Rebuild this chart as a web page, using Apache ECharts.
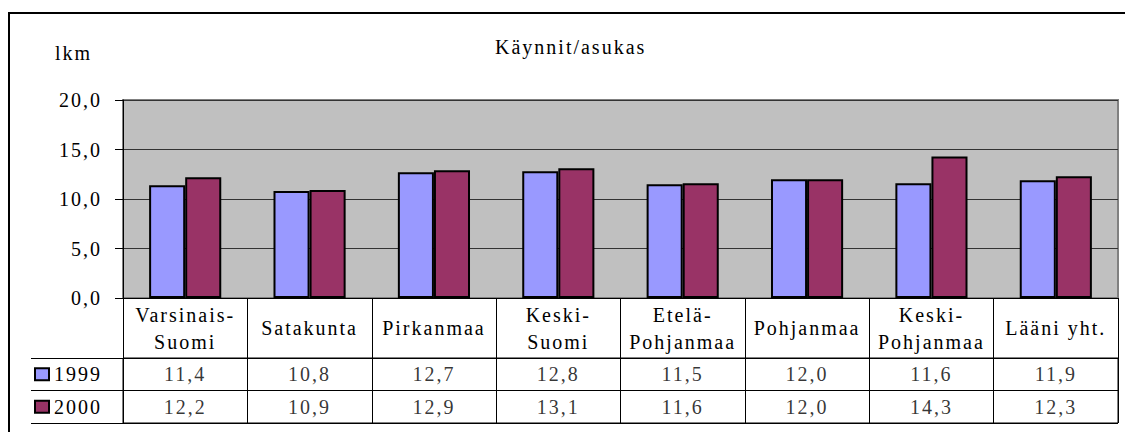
<!DOCTYPE html>
<html>
<head>
<meta charset="utf-8">
<script src="https://cdn.jsdelivr.net/npm/echarts@6/dist/echarts.min.js"></script>
<style>
    html, body { margin: 0; padding: 0; background: #fff; }
    #main { width: 1125px; height: 432px; letter-spacing: 2px; font-family: "Liberation Serif", serif; }
</style>
</head>
<body>
<div id="main"></div>
<script>
var categories = ['Varsinais-Suomi', 'Satakunta', 'Pirkanmaa', 'Keski-Suomi', 'Etelä-Pohjanmaa', 'Pohjanmaa', 'Keski-Pohjanmaa', 'Lääni yht.'];
var years = ['1999', '2000'];
var values1999 = [11.4, 10.8, 12.7, 12.8, 11.5, 12.0, 11.6, 11.9];
var values2000 = [12.2, 10.9, 12.9, 13.1, 11.6, 12.0, 14.3, 12.3];
var colors = ['#9999FF', '#993366'];

var font = '"Liberation Serif", "Times New Roman", serif';
var fontSize = 20;

function fmt(v) {
    return Number(v).toFixed(1).replace('.', ',');
}

// table cells: one entry per row/category
var tableData = [];
[values1999, values2000].forEach(function (vals, r) {
    vals.forEach(function (v, i) {
        tableData.push([categories[i], years[r], v]);
    });
});

var chart = echarts.init(document.getElementById('main'), null, { renderer: 'svg' });

var option = {
    animation: false,
    textStyle: { fontFamily: font },
    title: {
        text: 'Käynnit/asukas',
        left: 495,
        top: 37,
        padding: 0,
        textStyle: { fontFamily: font, fontSize: fontSize, fontWeight: 'normal', color: '#000' }
    },
    graphic: [{
        type: 'rect',
        silent: true,
        shape: { x: 9, y: 13, width: 1140, height: 440 },
        style: { fill: 'none', stroke: '#000', lineWidth: 2 }
    }],
    grid: [{
        left: 123, right: 7, top: 100, height: 198,
        show: true,
        backgroundColor: '#C0C0C0',
        borderColor: '#808080',
        borderWidth: 2
    }, {
        left: 123, right: 7, top: 358, height: 65,
        show: true,
        backgroundColor: '#fff',
        borderColor: '#000',
        borderWidth: 1
    }],
    xAxis: [{
        gridIndex: 0,
        type: 'category',
        data: categories,
        axisLine: { lineStyle: { color: '#000', width: 1 } },
        axisTick: { show: true, interval: 0, length: 60, lineStyle: { color: '#000' } },
        axisLabel: {
            interval: 0,
            margin: 30,
            verticalAlign: 'middle',
            lineHeight: 27,
            fontFamily: font,
            fontSize: fontSize,
            color: '#000',
            formatter: function (v) { return v.replace('-', '-\n'); }
        }
    }, {
        gridIndex: 1,
        type: 'category',
        data: categories,
        axisLine: { show: false },
        axisTick: { show: false },
        axisLabel: { show: false },
        splitLine: { show: true, interval: 0, lineStyle: { color: '#000', width: 1 } }
    }],
    yAxis: [{
        gridIndex: 0,
        type: 'value',
        min: 0,
        max: 20,
        interval: 5,
        name: 'lkm',
        nameLocation: 'end',
        nameGap: 37,
        nameTextStyle: { fontFamily: font, fontSize: fontSize, color: '#000', align: 'right', padding: [0, 31, 0, 0] },
        axisLine: { show: true, lineStyle: { color: '#000' } },
        axisTick: { show: true, length: 8, lineStyle: { color: '#000' } },
        axisLabel: { margin: 21, fontFamily: font, fontSize: fontSize, color: '#000', formatter: fmt },
        splitLine: { lineStyle: { color: '#333', width: 1 } }
    }, {
        gridIndex: 1,
        type: 'category',
        data: years,
        inverse: true,
        axisLine: { show: true, lineStyle: { color: '#000' } },
        axisTick: { show: true, interval: 0, length: 92, lineStyle: { color: '#000' } },
        splitLine: { show: true, interval: 0, lineStyle: { color: '#000', width: 1 } },
        axisLabel: {
            interval: 0,
            align: 'left',
            margin: 87,
            fontFamily: font,
            fontSize: fontSize,
            color: '#000',
            formatter: function (v, i) { return '{s' + i + '|}{t|' + v + '}'; },
            rich: {
                s0: { width: 12, height: 10, backgroundColor: colors[0], borderColor: '#000', borderWidth: 2 },
                s1: { width: 12, height: 10, backgroundColor: colors[1], borderColor: '#000', borderWidth: 2 },
                t: { fontFamily: font, fontSize: fontSize, color: '#000', padding: [0, 0, 0, 6] }
            }
        }
    }, {
        gridIndex: 1,
        type: 'category',
        data: years,
        inverse: true,
        offset: 92,
        axisLine: { show: true, lineStyle: { color: '#000' } },
        axisTick: { show: false },
        axisLabel: { show: false }
    }],
    series: [{
        name: '1999',
        type: 'bar',
        xAxisIndex: 0,
        yAxisIndex: 0,
        data: values1999,
        barGap: '0%',
        barCategoryGap: '42%',
        itemStyle: { color: colors[0], borderColor: '#000', borderWidth: 2 }
    }, {
        name: '2000',
        type: 'bar',
        xAxisIndex: 0,
        yAxisIndex: 0,
        data: values2000,
        barGap: '0%',
        barCategoryGap: '42%',
        itemStyle: { color: colors[1], borderColor: '#000', borderWidth: 2 }
    }, {
        name: 'table',
        type: 'scatter',
        xAxisIndex: 1,
        yAxisIndex: 1,
        silent: true,
        symbolSize: 1,
        itemStyle: { color: 'rgba(0,0,0,0)' },
        label: {
            show: true,
            position: 'inside',
            fontFamily: font,
            fontSize: fontSize,
            color: '#000',
            formatter: function (p) { return fmt(p.value[2]); }
        },
        data: tableData
    }]
};

chart.setOption(option);
</script>
</body>
</html>
